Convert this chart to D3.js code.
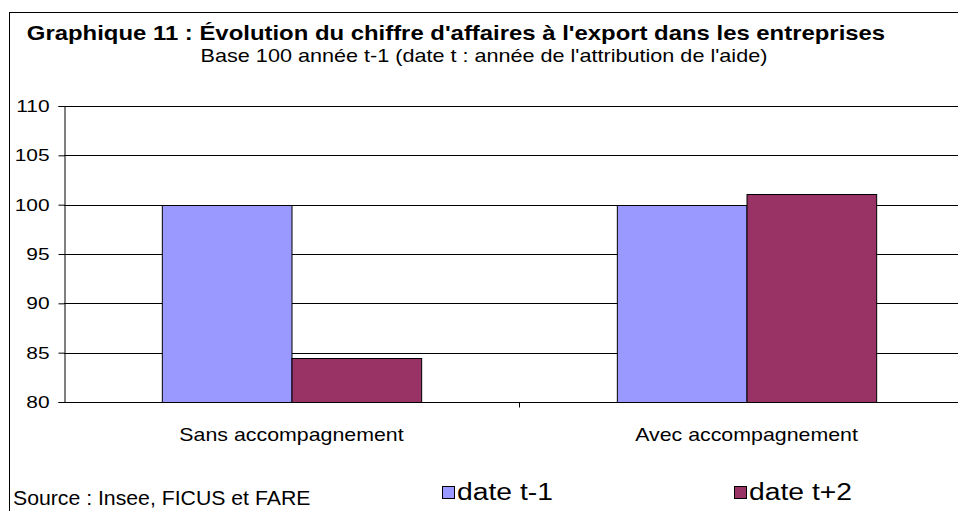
<!DOCTYPE html>
<html>
<head>
<meta charset="utf-8">
<script src="https://cdn.jsdelivr.net/npm/d3@7"></script>
<style>
  html, body { margin: 0; padding: 0; background: #fff; }
  svg { display: block; font-family: Arial, "Liberation Sans", sans-serif; }
</style>
</head>
<body>
<div id="chart"></div>
<script>
// ---- data ----
const categories = ["Sans accompagnement", "Avec accompagnement"];
const seriesNames = ["date t-1", "date t+2"];
const valuesT1 = [100, 100];
const valuesT2 = [84.5, 101.1];
const yTicks = [80, 85, 90, 95, 100, 105, 110];

const title = "Graphique 11 : Évolution du chiffre d'affaires à l'export dans les entreprises";
const subtitle = "Base 100 année t-1 (date t : année de l'attribution de l'aide)";
const source = "Source : Insee, FICUS et FARE";

const width = 958, height = 511;
const colors = ["#9999ff", "#993366"];
// the original picture is a bit wider than tall, so text is stretched sideways
const SX = 1.23;

const svg = d3.select("#chart").append("svg")
  .attr("width", width)
  .attr("height", height);

// text helper: font size + horizontal stretch around the anchor point
function label(parent, x, y, txt, size, sx, anchor, bold) {
  return parent.append("text")
    .attr("transform", `translate(${x},${y}) scale(${sx},1)`)
    .attr("text-anchor", anchor || "start")
    .attr("font-size", size)
    .attr("font-weight", bold ? "bold" : null)
    .attr("fill", "#000")
    .text(txt);
}

// outer frame (runs off the right and bottom edges)
svg.append("rect")
  .attr("x", 9.5).attr("y", 12.5)
  .attr("width", 1000).attr("height", 600)
  .attr("fill", "none").attr("stroke", "#000");

// titles
label(svg, 456, 40, title, 19.5, 1.226, "middle", true);
label(svg, 484, 61.5, subtitle, 17.5, 1.235, "middle");

// scales
const plotLeft = 64, plotRight = 974;
const x0 = d3.scaleBand()
  .domain(categories)
  .range([plotLeft, plotRight])
  .paddingInner(0.43)
  .paddingOuter(0.215);
const x1 = d3.scaleBand()
  .domain(seriesNames)
  .range([0, x0.bandwidth()]);
const y = d3.scaleLinear()
  .domain([80, 110])
  .range([402, 106]);

// gridlines
svg.append("g")
  .selectAll("line")
  .data(yTicks)
  .join("line")
    .attr("x1", plotLeft).attr("x2", plotRight)
    .attr("y1", d => Math.round(y(d)) + 0.5)
    .attr("y2", d => Math.round(y(d)) + 0.5)
    .attr("stroke", "#000");

// bars
const rows = categories.map((c, i) => ({ cat: c, vals: [valuesT1[i], valuesT2[i]] }));
svg.append("g")
  .selectAll("g")
  .data(rows)
  .join("g")
    .attr("transform", d => `translate(${x0(d.cat)},0)`)
  .selectAll("rect")
  .data(d => d.vals.map((v, j) => ({ name: seriesNames[j], v, j })))
  .join("rect")
    .attr("x", d => x1(d.name) + 0.5)
    .attr("y", d => Math.round(y(d.v)) + 0.5)
    .attr("width", x1.bandwidth())
    .attr("height", d => Math.round(y(80)) - Math.round(y(d.v)))
    .attr("fill", d => colors[d.j])
    .attr("stroke", "#000")
    .attr("stroke-width", 1);

// y axis
const yAxis = svg.append("g")
  .attr("transform", `translate(${plotLeft + 0.5},0)`)
  .call(d3.axisLeft(y).tickValues(yTicks).tickSize(6).tickPadding(15));
yAxis.select(".domain").attr("stroke", "#000");
yAxis.selectAll(".tick line").attr("stroke", "#000");
yAxis.selectAll("text")
  .attr("font-size", 17).attr("fill", "#000")
  .attr("font-family", "Arial, 'Liberation Sans', sans-serif")
  .attr("x", -15 / SX)
  .attr("transform", `scale(${SX},1)`);

// x axis: category labels + separator tick between groups
const xAxis = svg.append("g")
  .attr("transform", `translate(0,${Math.round(y(80)) + 0.5})`);
xAxis.append("line")
  .attr("x1", plotLeft).attr("x2", plotRight)
  .attr("stroke", "#000");
xAxis.selectAll("line.sep")
  .data(categories.slice(1))
  .join("line")
    .attr("class", "sep")
    .attr("x1", d => Math.round(x0(d) - x0.step() * x0.paddingInner() / 2) + 0.5)
    .attr("x2", d => Math.round(x0(d) - x0.step() * x0.paddingInner() / 2) + 0.5)
    .attr("y1", 0).attr("y2", 5)
    .attr("stroke", "#000");
categories.forEach(c => {
  label(xAxis, x0(c) + x0.bandwidth() / 2, 38.5, c, 17.5, 1.22, "middle");
});

// source
label(svg, 13, 504.5, source, 19.5, 1.09, "start");

// legend
const legendX = [442, 734];
const legend = svg.append("g")
  .selectAll("g")
  .data(seriesNames)
  .join("g")
    .attr("transform", (d, i) => `translate(${legendX[i]},486)`);
legend.append("rect")
  .attr("x", 0.5).attr("y", 0.5)
  .attr("width", 12).attr("height", 12)
  .attr("fill", (d, i) => colors[i])
  .attr("stroke", "#000");
legend.each(function (d) {
  label(d3.select(this), 15, 14, d, 23, SX, "start");
});
</script>
</body>
</html>
